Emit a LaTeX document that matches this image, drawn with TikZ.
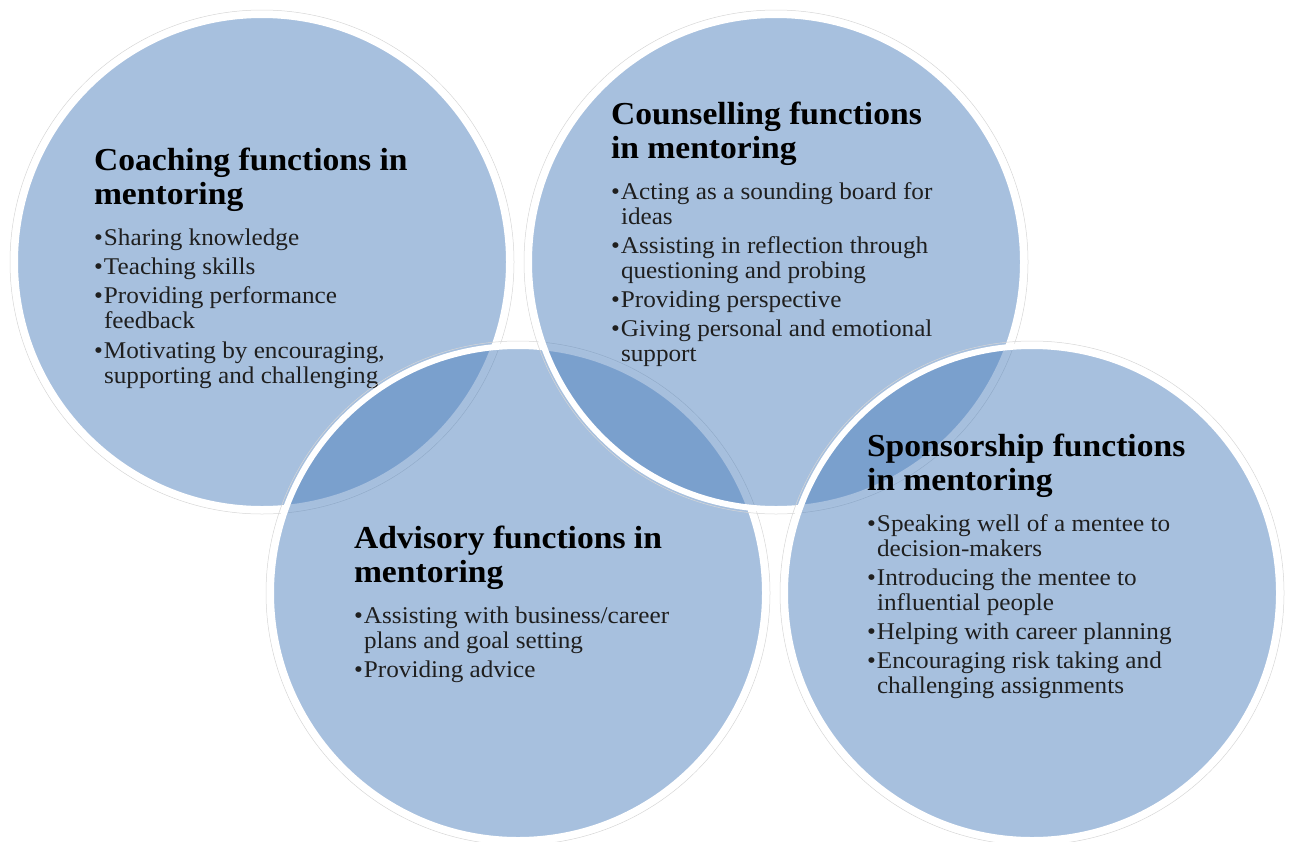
\documentclass[tikz,border=0pt]{standalone}
\usepackage{fontspec}
\setmainfont{Liberation Serif}[FakeStretch=1.05]
\definecolor{acc}{HTML}{4F81BD}
\definecolor{rim}{HTML}{D6D6D6}
\newcommand\vhead[1]{\hbox{\fontsize{32}{34}\selectfont\bfseries #1}}
\newcommand\vitem[1]{\hbox{\fontsize{24}{25}\selectfont\color{black!88}\makebox[10pt][l]{•}#1}}
\newcommand\vcont[1]{\hbox{\fontsize{24}{25}\selectfont\color{black!88}\hspace*{10pt}#1}}
\newcommand\vgap[1]{\baselineskip=#1pt\relax}
\begin{document}
\begin{tikzpicture}[x=1pt,y=-1pt,
  vennrim/.style={circle, minimum size=504pt, inner sep=0pt, draw=rim, line width=0.5pt},
  venncircle/.style={circle, minimum size=494pt, inner sep=0pt, fill=acc, fill opacity=0.5, draw=white, line width=6pt},
  venntext/.style={anchor=base west, inner sep=0pt, outer sep=0pt}]
\useasboundingbox (0,0) rectangle (1290,841);

% Coaching
\node[vennrim] (coachrim) at (262,262) {};
\node[venncircle] (coach) at (262,262) {};
\node[venntext] (coachtxt) at (94,170) {\vtop{\lineskiplimit=-1000pt
  \vhead{Coaching functions in}
  \vgap{34}\vhead{mentoring}
  \vgap{41}\vitem{Sharing knowledge}
  \vgap{29}\vitem{Teaching skills}
  \vitem{Providing performance}
  \vgap{25}\vcont{feedback}
  \vgap{30}\vitem{Motivating by encouraging,}
  \vgap{25}\vcont{supporting and challenging}}};

% Advisory
\node[vennrim] (advrim) at (518,593) {};
\node[venncircle] (adv) at (518,593) {};
\node[venntext] (advtxt) at (354,548) {\vtop{\lineskiplimit=-1000pt
  \vhead{Advisory functions in}
  \vgap{34}\vhead{mentoring}
  \vgap{41}\vitem{Assisting with business/career}
  \vgap{25}\vcont{plans and goal setting}
  \vgap{29}\vitem{Providing advice}}};

% Counselling
\node[vennrim] (counrim) at (776,262) {};
\node[venncircle] (coun) at (776,262) {};
\node[venntext] (countxt) at (611,124) {\vtop{\lineskiplimit=-1000pt
  \vhead{Counselling functions}
  \vgap{34}\vhead{in mentoring}
  \vgap{41}\vitem{Acting as a sounding board for}
  \vgap{25}\vcont{ideas}
  \vgap{29}\vitem{Assisting in reflection through}
  \vgap{25}\vcont{questioning and probing}
  \vgap{29}\vitem{Providing perspective}
  \vitem{Giving personal and emotional}
  \vgap{25}\vcont{support}}};

% Sponsorship
\node[vennrim] (sponrim) at (1032,593) {};
\node[venncircle] (spon) at (1032,593) {};
\node[venntext] (spontxt) at (867,456) {\vtop{\lineskiplimit=-1000pt
  \vhead{Sponsorship functions}
  \vgap{34}\vhead{in mentoring}
  \vgap{41}\vitem{Speaking well of a mentee to}
  \vgap{25}\vcont{decision-makers}
  \vgap{29}\vitem{Introducing the mentee to}
  \vgap{25}\vcont{influential people}
  \vgap{29}\vitem{Helping with career planning}
  \vitem{Encouraging risk taking and}
  \vgap{25}\vcont{challenging assignments}}};
\end{tikzpicture}
\end{document}
